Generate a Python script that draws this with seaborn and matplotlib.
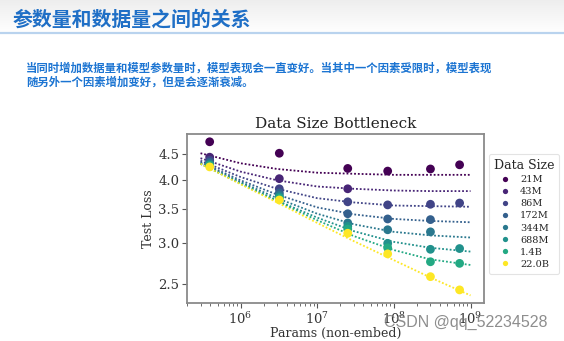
import numpy as np
import pandas as pd
import matplotlib
matplotlib.use("Agg")
import matplotlib.pyplot as plt
import seaborn as sns
from matplotlib.ticker import FixedLocator, FormatStrFormatter, NullLocator, NullFormatter, LogLocator

# ---- data ----
data_sizes = ["21M", "43M", "86M", "172M", "344M", "688M", "1.4B", "22.0B"]
data_tokens = [2.1e7, 4.3e7, 8.6e7, 1.72e8, 3.44e8, 6.88e8, 1.4e9, 2.2e10]

model_params = [3.95e5, 3.2e6, 2.5e7, 8.3e7, 3.0e8, 7.2e8]
loss_21M = [4.75, 4.51, 4.21, 4.16, 4.20, 4.28]
loss_43M = [4.43, 4.02, 3.84, None, None, None]
loss_86M = [4.37, 3.84, 3.62, 3.57, 3.58, 3.60]
loss_172M = [4.33, 3.77, 3.43, 3.35, 3.34, None]
loss_344M = [4.30, 3.73, 3.29, 3.19, 3.16, None]
loss_688M = [4.28, 3.70, 3.24, 3.00, 2.92, 2.93]
loss_1_4B = [4.27, 3.68, 3.20, 2.94, 2.76, 2.74]
loss_22B = [4.24, 3.65, 3.14, 2.86, 2.58, 2.43]

fit_params = [3e5, 1e6, 3e6, 1e7, 3e7, 1e8, 3e8, 1e9]
fit_21M = [4.51, 4.31, 4.20, 4.13, 4.11, 4.09, 4.09, 4.09]
fit_43M = [4.41, 4.15, 3.99, 3.88, 3.84, 3.81, 3.80, 3.80]
fit_86M = [4.36, 4.05, 3.84, 3.68, 3.61, 3.56, 3.55, 3.54]
fit_172M = [4.33, 3.99, 3.74, 3.53, 3.42, 3.35, 3.32, 3.30]
fit_344M = [4.31, 3.96, 3.68, 3.43, 3.27, 3.16, 3.11, 3.08]
fit_688M = [4.30, 3.94, 3.64, 3.37, 3.17, 3.02, 2.94, 2.89]
fit_1_4B = [4.30, 3.93, 3.63, 3.33, 3.10, 2.91, 2.79, 2.72]
fit_22B = [4.30, 3.92, 3.61, 3.29, 3.03, 2.78, 2.57, 2.37]

y_ticks = [2.5, 3.0, 3.5, 4.0, 4.5]

point_series = [loss_21M, loss_43M, loss_86M, loss_172M,
                loss_344M, loss_688M, loss_1_4B, loss_22B]
fit_series = [fit_21M, fit_43M, fit_86M, fit_172M,
              fit_344M, fit_688M, fit_1_4B, fit_22B]

rows = []
for name, vals in zip(data_sizes, point_series):
    for n, v in zip(model_params, vals):
        if v is not None:
            rows.append({"params": n, "loss": v, "size": name})
points = pd.DataFrame(rows)

rows = []
for name, vals in zip(data_sizes, fit_series):
    for n, v in zip(fit_params, vals):
        rows.append({"params": n, "loss": v, "size": name})
fits = pd.DataFrame(rows)

# colour each data size by log(tokens) on viridis
logd = np.log10(data_tokens)
norm = (logd - logd.min()) / (logd.max() - logd.min())
cmap = plt.get_cmap("viridis")
palette = {name: cmap(t) for name, t in zip(data_sizes, norm)}

# ---- slide ----
sns.set_theme(style="white")
plt.rcParams["font.family"] = ["Noto Sans CJK SC", "DejaVu Sans"]

fig = plt.figure(figsize=(5.64, 3.41), dpi=100)
fig.patch.set_facecolor("white")

# soft grey header band
hdr = fig.add_axes([0, 0.903, 1, 0.097])
grad = np.linspace(0.93, 1.0, 64).reshape(-1, 1)
hdr.imshow(np.dstack([grad, grad, grad]), aspect="auto", extent=[0, 1, 0, 1])
hdr.set_axis_off()

fig.text(0.022, 0.945, "参数量和数据量之间的关系", fontsize=14.3, fontweight="bold",
         color="#1f6fc6", ha="left", va="center")
fig.add_artist(plt.Line2D([0, 1], [0.902, 0.902], color="#b9d3ee", lw=1.6,
                          transform=fig.transFigure))
body_blue = "#1b74d2"
fig.text(0.046, 0.800, "当同时增加数据量和模型参数量时，模型表现会一直变好。当其中一个因素受限时，模型表现",
         fontsize=8.2, fontweight="bold", color=body_blue, ha="left", va="center")
fig.text(0.046, 0.758, "随另外一个因素增加变好，但是会逐渐衰减。",
         fontsize=8.2, fontweight="bold", color=body_blue, ha="left", va="center")

# ---- chart ----
serif = ["DejaVu Serif"]
ax = fig.add_axes([0.3316, 0.1114, 0.5266, 0.4956])
ax.set_facecolor("white")

sns.lineplot(data=fits, x="params", y="loss", hue="size", hue_order=data_sizes,
             palette=palette, linestyle=(0, (1, 1.1)), linewidth=1.3,
             legend=False, ax=ax, zorder=2)
sns.scatterplot(data=points, x="params", y="loss", hue="size", hue_order=data_sizes,
                palette=palette, s=40, edgecolor="none", linewidth=0,
                ax=ax, zorder=3)

ax.set_xscale("log")
ax.set_yscale("log")
ax.set_xlim(2.0e5, 1.5e9)
ax.set_ylim(2.29, 4.92)

ax.yaxis.set_major_locator(FixedLocator(y_ticks))
ax.yaxis.set_major_formatter(FormatStrFormatter("%.1f"))
ax.yaxis.set_minor_locator(NullLocator())
ax.yaxis.set_minor_formatter(NullFormatter())
ax.xaxis.set_major_locator(LogLocator(base=10, numticks=12))
ax.xaxis.set_minor_locator(LogLocator(base=10, subs=np.arange(2, 10), numticks=12))
ax.xaxis.set_minor_formatter(NullFormatter())

ax.tick_params(axis="both", which="major", direction="out", length=3.5, width=0.8,
               colors="#555555", labelcolor="#333333", labelsize=9.5,
               bottom=True, left=True, pad=2)
ax.tick_params(axis="x", which="minor", direction="out", length=2, width=0.6,
               colors="#555555", bottom=True)
for lab in ax.get_xticklabels() + ax.get_yticklabels():
    lab.set_fontfamily(serif)

for sp in ax.spines.values():
    sp.set_color("#8a8a8a")
    sp.set_linewidth(1.3)

ax.set_title("Data Size Bottleneck", fontsize=11, family=serif, color="#222222", pad=4)
ax.set_xlabel("Params (non-embed)", fontsize=9, family=serif, color="#333333", labelpad=0)
ax.set_ylabel("Test Loss", fontsize=9, family=serif, color="#333333", labelpad=2)

handles, labels = ax.get_legend_handles_labels()
leg = ax.legend(handles, labels, title="Data Size", loc="upper left",
                bbox_to_anchor=(1.0, 0.91), frameon=True,
                title_fontsize=9, markerscale=0.6, labelspacing=0.32,
                handletextpad=0.9, borderpad=0.5, handlelength=1.3,
                prop={"family": serif, "size": 7})
leg.get_title().set_fontfamily(serif)
leg.get_frame().set_edgecolor("#dddddd")
leg.get_frame().set_linewidth(0.8)

# watermark
fig.text(0.825, 0.053, "CSDN @qq_52234528", fontsize=11.5, color="#7a7a7a", alpha=0.85,
         family=["Liberation Sans", "DejaVu Sans"], ha="center", va="center")

fig.savefig("out.png", dpi=100, facecolor="white")
